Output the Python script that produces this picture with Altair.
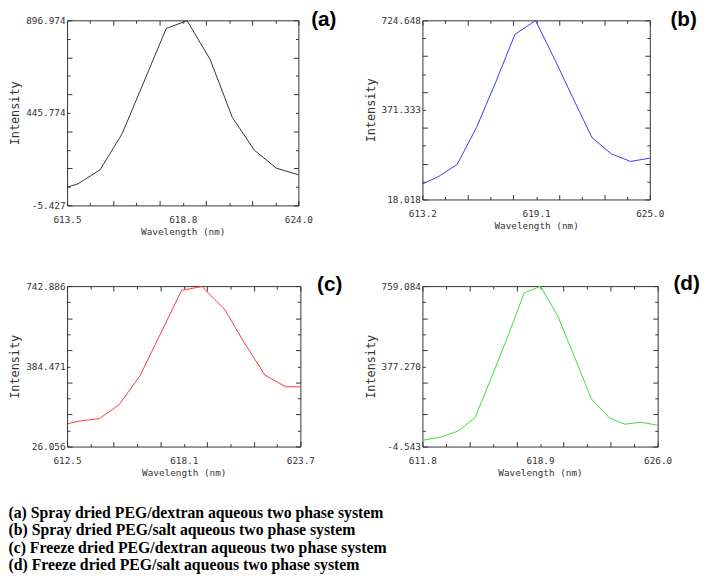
import altair as alt
import numpy as np
import pandas as pd

# ---------------- data ----------------
letters = ["(a)", "(b)", "(c)", "(d)"]
caption = [
    "(a) Spray dried PEG/dextran aqueous two phase system",
    "(b) Spray dried PEG/salt aqueous two phase system",
    "(c) Freeze dried PEG/dextran aqueous two phase system",
    "(d) Freeze dried PEG/salt aqueous two phase system",
]

a_wl = [613.5, 614.0, 615.0, 616.0, 617.0, 618.0, 618.95, 620.0, 621.0, 622.0, 623.0, 624.0]
a_int = [83, 100, 168, 344, 600, 857, 895, 705, 424, 264, 176, 144]

b_wl = [613.2, 614.0, 615.0, 616.0, 617.0, 618.0, 619.07, 620.1, 621.0, 622.0, 623.0, 624.0, 625.0]
b_int = [79, 107, 156, 301, 480, 669, 724, 565, 420, 262, 198, 168, 181]

c_wl = [612.5, 613.0, 614.05, 615.0, 616.0, 617.0, 618.0, 618.97, 620.06, 621.0, 622.0, 623.0, 623.7]
c_int = [127, 139, 151, 213, 342, 533, 724, 741, 640, 491, 345, 293, 293]

d_wl = [611.8, 612.9, 613.95, 614.98, 616.0, 617.0, 617.94, 618.93, 619.98, 621.0, 622.0, 623.1, 624.0, 625.0, 626.0]
d_int = [25, 41, 69, 133, 331, 529, 726, 759, 614, 418, 222, 131, 102, 111, 97]

x_domains = [[613.5, 624.0], [613.2, 625.0], [612.5, 623.7], [611.8, 626.0]]
y_domains = [[-5.427, 896.974], [18.018, 724.648], [26.056, 742.886], [-4.543, 759.084]]
x_labels = [["613.5", "618.8", "624.0"], ["613.2", "619.1", "625.0"],
            ["612.5", "618.1", "623.7"], ["611.8", "618.9", "626.0"]]
y_labels = [["-5.427", "445.774", "896.974"], ["18.018", "371.333", "724.648"],
            ["26.056", "384.471", "742.886"], ["-4.543", "377.270", "759.084"]]

series_x = [a_wl, b_wl, c_wl, d_wl]
series_y = [a_int, b_int, c_int, d_int]
colors = ["#333333", "#3838ff", "#ff3838", "#38e038"]

# ---------------- layout / style ----------------
widths = [235, 231, 237, 239]
heights = [188, 182, 163, 163]
letter_dx = [13, 21, 17, 16]
letter_dy = [0, 0, -1, -2]

MONO = "DejaVu Sans Mono"
INK = "#333333"


def label_expr(labels):
    return ("datum.index < 0.01 ? '%s' : abs(datum.index - 0.5) < 0.01 ? '%s' : "
            "datum.index > 0.99 ? '%s' : ''" % tuple(labels))


def tick_axis(orient, offset, values, size):
    return alt.Axis(orient=orient, offset=offset, values=values, labels=False,
                    domain=False, grid=False, title="", ticks=True,
                    tickColor=INK, tickWidth=1, tickSize=size)


def panel(i):
    w, h = widths[i], heights[i]
    df = pd.DataFrame({"wl": series_x[i], "inten": series_y[i]})
    xt = [float(v) for v in np.linspace(x_domains[i][0], x_domains[i][1], 11)]
    yt = [float(v) for v in np.linspace(y_domains[i][0], y_domains[i][1], 11)]
    xs = alt.Scale(domain=x_domains[i], nice=False, zero=False)
    ys = alt.Scale(domain=y_domains[i], nice=False, zero=False)

    main = alt.Chart(df).mark_line(color=colors[i], strokeWidth=1).encode(
        x=alt.X("wl:Q", scale=xs, axis=alt.Axis(
            values=xt, labelExpr=label_expr(x_labels[i]), ticks=False, tickSize=0,
            domain=False, grid=False, labelFlush=False, labelOverlap=False,
            labelPadding=9, labelFont=MONO, labelFontSize=9.5, labelColor=INK,
            title="Wavelength (nm)", titleFont=MONO, titleFontSize=9.5,
            titleFontWeight="normal", titleColor=INK, titlePadding=3)),
        y=alt.Y("inten:Q", scale=ys, axis=alt.Axis(
            values=yt, labelExpr=label_expr(y_labels[i]), ticks=False, tickSize=0,
            domain=False, grid=False, labelFlush=False, labelOverlap=False,
            labelPadding=2, labelFont=MONO, labelFontSize=9.5, labelColor=INK,
            title="Intensity", titleFont=MONO, titleFontSize=12,
            titleFontWeight="normal", titleColor=INK, titlePadding=4)),
    )
    layers = [main]
    for vals_x, vals_y, size in ((xt[::2], yt[::2], 5), (xt[1::2], yt[1::2], 3)):
        layers.append(alt.Chart(df).mark_line(opacity=0).encode(
            x=alt.X("wl:Q", scale=xs, axis=tick_axis("top", -h, vals_x, size)),
            y=alt.Y("inten:Q", scale=ys, axis=tick_axis("right", -w, vals_y, size)),
        ))
        layers.append(alt.Chart(df).mark_line(opacity=0).encode(
            x=alt.X("wl:Q", scale=xs, axis=tick_axis("bottom", -h, vals_x, size)),
            y=alt.Y("inten:Q", scale=ys, axis=tick_axis("left", -w, vals_y, size)),
        ))
    layers.append(alt.Chart(pd.DataFrame({"t": [letters[i]]})).mark_text(
        font="Liberation Sans", fontWeight="bold", fontSize=21, color="black",
        align="left", baseline="middle"
    ).encode(text="t:N", x=alt.value(w + letter_dx[i]), y=alt.value(letter_dy[i])))

    return alt.layer(*layers).resolve_axis(
        x="independent", y="independent").properties(width=w, height=h)


chart = alt.concat(
    *[panel(i) for i in range(4)],
    columns=2, spacing={"row": 82, "column": 124}, bounds="flush",
).properties(
    padding={"top": -4, "left": 0, "right": 0, "bottom": 0},
    title=alt.TitleParams(
        text=caption, orient="bottom", anchor="start", frame="bounds",
        font="Liberation Serif", fontSize=16, fontWeight="bold", color="black",
        lineHeight=17.7, offset=28),
).configure_view(stroke=INK, strokeWidth=1)

chart.save("out.html", embed_options={"renderer": "svg", "actions": False})
